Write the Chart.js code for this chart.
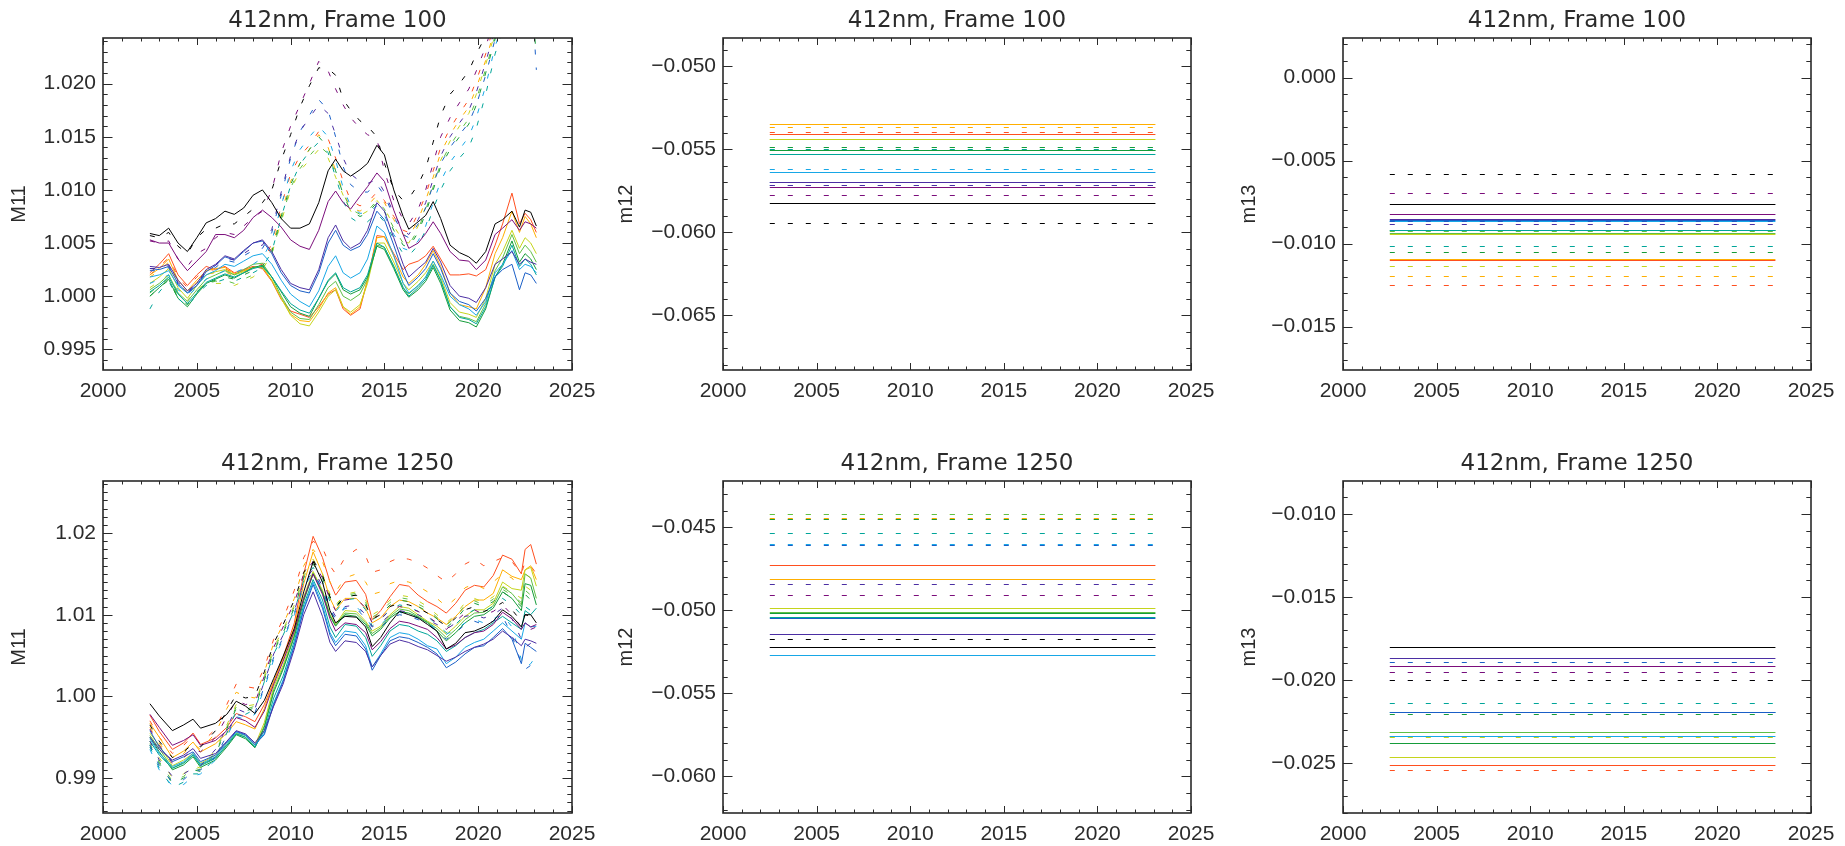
<!DOCTYPE html>
<html>
<head>
<meta charset="utf-8">
<title>412nm M11 / m12 / m13</title>
<script src="https://cdn.jsdelivr.net/npm/chart.js@4.4.1/dist/chart.umd.min.js"></script>
<style>
  html, body { margin: 0; padding: 0; background: #fff; }
  body { width: 1845px; height: 846px; position: relative; overflow: hidden; }
  canvas { position: absolute; }
</style>
</head>
<body>
<canvas id="m11Top"></canvas>
<canvas id="m12Top"></canvas>
<canvas id="m13Top"></canvas>
<canvas id="m11Bottom"></canvas>
<canvas id="m12Bottom"></canvas>
<canvas id="m13Bottom"></canvas>
<script>
// detector colours, same order in every panel
const lineColors = ['#000000', '#7b0d7b', '#4b2ea3', '#1a5fc7', '#17a7e6', '#00a599', '#159c3a', '#5fbf45', '#c5d41c', '#ffae00', '#ff4f1f'];

// x axis
const yearTicks = [2000, 2005, 2010, 2015, 2020, 2025];
const flatSpan = [2002.5, 2023.1];

// y tick labels
const m11TopTicks = [0.995, 1.000, 1.005, 1.010, 1.015, 1.020];
const m12TopTicks = [-0.065, -0.060, -0.055, -0.050];
const m13TopTicks = [-0.015, -0.010, -0.005, 0.000];
const m11BottomTicks = [0.99, 1.00, 1.01, 1.02];
const m12BottomTicks = [-0.060, -0.055, -0.050, -0.045];
const m13BottomTicks = [-0.025, -0.020, -0.015, -0.010];

// ---- M11, Frame 100 ----
const yearsF100 = [2002.5, 2003.0, 2003.5, 2004.0, 2004.5, 2005.0, 2005.5, 2006.0, 2006.5, 2007.0,
  2007.5, 2008.0, 2008.5, 2009.0, 2009.5, 2010.0, 2010.5, 2011.0, 2011.5, 2012.0,
  2012.4, 2012.8, 2013.2, 2013.7, 2014.1, 2014.6, 2015.0, 2015.5, 2016.0, 2016.3,
  2016.8, 2017.2, 2017.6, 2018.0, 2018.5, 2019.0, 2019.5, 2019.9, 2020.4, 2020.9,
  2021.3, 2021.8, 2022.2, 2022.5, 2022.8, 2023.1];

const f100Black = [1.0059, 1.0057, 1.0064, 1.0050, 1.0042, 1.0055, 1.0069, 1.0073, 1.0080, 1.0077,
  1.0083, 1.0095, 1.0100, 1.0088, 1.0073, 1.0064, 1.0064, 1.0068, 1.0088, 1.0118,
  1.0129, 1.0118, 1.0113, 1.0119, 1.0125, 1.0142, 1.0133, 1.0100, 1.0075, 1.0063,
  1.0070, 1.0076, 1.0089, 1.0073, 1.0048, 1.0041, 1.0037, 1.0031, 1.0042, 1.0068,
  1.0072, 1.0080, 1.0065, 1.0081, 1.0079, 1.0066];
const f100Purple = [1.0053, 1.0050, 1.0050, 1.0035, 1.0024, 1.0033, 1.0042, 1.0058, 1.0058, 1.0055,
  1.0062, 1.0074, 1.0081, 1.0074, 1.0065, 1.0053, 1.0047, 1.0044, 1.0062, 1.0089,
  1.0099, 1.0088, 1.0082, 1.0094, 1.0103, 1.0116, 1.0108, 1.0081, 1.0058, 1.0045,
  1.0050, 1.0059, 1.0070, 1.0059, 1.0042, 1.0034, 1.0033, 1.0025, 1.0034, 1.0058,
  1.0064, 1.0072, 1.0062, 1.0070, 1.0068, 1.0064];
const f100Indigo = [1.0028, 1.0027, 1.0030, 1.0015, 1.0005, 1.0012, 1.0025, 1.0030, 1.0038, 1.0035,
  1.0043, 1.0050, 1.0053, 1.0042, 1.0025, 1.0012, 1.0008, 1.0006, 1.0025, 1.0055,
  1.0067, 1.0052, 1.0045, 1.0050, 1.0062, 1.0088, 1.0080, 1.0055, 1.0030, 1.0018,
  1.0026, 1.0032, 1.0045, 1.0032, 1.0010, 1.0000, 0.9998, 0.9994, 1.0008, 1.0030,
  1.0035, 1.0042, 1.0030, 1.0035, 1.0032, 1.0030];
const f100Blue = [1.0026, 1.0025, 1.0028, 1.0012, 1.0003, 1.0010, 1.0023, 1.0029, 1.0037, 1.0034,
  1.0042, 1.0050, 1.0052, 1.0040, 1.0022, 1.0010, 1.0005, 1.0003, 1.0022, 1.0050,
  1.0062, 1.0048, 1.0043, 1.0047, 1.0058, 1.0080, 1.0072, 1.0048, 1.0022, 1.0010,
  1.0018, 1.0026, 1.0040, 1.0026, 1.0003, 0.9995, 0.9992, 0.9986, 0.9998, 1.0018,
  1.0025, 1.0030, 1.0006, 1.0022, 1.0020, 1.0012];
const f100LightBlue = [1.0018, 1.0020, 1.0024, 1.0010, 1.0003, 1.0010, 1.0020, 1.0024, 1.0030, 1.0028,
  1.0033, 1.0038, 1.0040, 1.0030, 1.0015, 1.0002, 0.9995, 0.9990, 1.0005, 1.0028,
  1.0038, 1.0022, 1.0017, 1.0022, 1.0035, 1.0066, 1.0060, 1.0038, 1.0012, 1.0003,
  1.0010, 1.0018, 1.0033, 1.0020, 1.0000, 0.9992, 0.9988, 0.9982, 0.9995, 1.0022,
  1.0030, 1.0043, 1.0025, 1.0030, 1.0028, 1.0022];
const f100Teal = [1.0004, 1.0010, 1.0018, 1.0002, 0.9993, 1.0003, 1.0013, 1.0017, 1.0021, 1.0018,
  1.0022, 1.0026, 1.0028, 1.0018, 1.0005, 0.9993, 0.9987, 0.9984, 0.9998, 1.0015,
  1.0022, 1.0008, 1.0004, 1.0008, 1.0020, 1.0050, 1.0046, 1.0028, 1.0008, 1.0000,
  1.0008, 1.0016, 1.0029, 1.0015, 0.9990, 0.9980, 0.9978, 0.9974, 0.9990, 1.0018,
  1.0028, 1.0048, 1.0028, 1.0035, 1.0030, 1.0020];
const f100Green = [1.0000, 1.0008, 1.0016, 0.9998, 0.9990, 1.0002, 1.0012, 1.0016, 1.0020, 1.0017,
  1.0022, 1.0027, 1.0029, 1.0018, 1.0004, 0.9990, 0.9984, 0.9981, 0.9998, 1.0014,
  1.0021, 1.0006, 1.0002, 1.0006, 1.0018, 1.0047, 1.0044, 1.0026, 1.0006, 0.9999,
  1.0006, 1.0014, 1.0027, 1.0012, 0.9987, 0.9977, 0.9975, 0.9971, 0.9988, 1.0018,
  1.0030, 1.0052, 1.0032, 1.0040, 1.0035, 1.0025];
const f100LightGreen = [1.0006, 1.0012, 1.0020, 1.0003, 0.9995, 1.0006, 1.0016, 1.0020, 1.0024, 1.0020,
  1.0025, 1.0030, 1.0031, 1.0018, 1.0000, 0.9985, 0.9979, 0.9978, 0.9992, 1.0008,
  1.0014, 1.0000, 0.9996, 1.0002, 1.0016, 1.0048, 1.0046, 1.0028, 1.0008, 1.0002,
  1.0010, 1.0018, 1.0030, 1.0015, 0.9990, 0.9981, 0.9979, 0.9976, 0.9993, 1.0024,
  1.0036, 1.0058, 1.0040, 1.0048, 1.0042, 1.0032];
const f100YellowGreen = [1.0012, 1.0018, 1.0026, 1.0008, 0.9998, 1.0010, 1.0020, 1.0023, 1.0025, 1.0020,
  1.0023, 1.0027, 1.0028, 1.0015, 0.9998, 0.9982, 0.9974, 0.9972, 0.9985, 1.0000,
  1.0006, 0.9990, 0.9985, 0.9992, 1.0012, 1.0050, 1.0050, 1.0032, 1.0012, 1.0006,
  1.0014, 1.0022, 1.0033, 1.0018, 0.9994, 0.9985, 0.9983, 0.9980, 0.9998, 1.0030,
  1.0042, 1.0062, 1.0045, 1.0055, 1.0050, 1.0040];
const f100Orange = [1.0020, 1.0026, 1.0035, 1.0015, 1.0005, 1.0015, 1.0024, 1.0026, 1.0027, 1.0021,
  1.0024, 1.0027, 1.0027, 1.0015, 0.9998, 0.9983, 0.9977, 0.9976, 0.9988, 1.0003,
  1.0008, 0.9990, 0.9983, 0.9990, 1.0015, 1.0055, 1.0056, 1.0038, 1.0018, 1.0012,
  1.0020, 1.0030, 1.0043, 1.0028, 1.0003, 0.9992, 0.9990, 0.9988, 1.0008, 1.0040,
  1.0055, 1.0080, 1.0060, 1.0075, 1.0068, 1.0055];
const f100Red = [1.0022, 1.0030, 1.0040, 1.0020, 1.0010, 1.0020, 1.0028, 1.0025, 1.0028, 1.0022,
  1.0025, 1.0028, 1.0026, 1.0014, 0.9997, 0.9986, 0.9983, 0.9980, 0.9990, 1.0002,
  1.0006, 0.9988, 0.9982, 0.9988, 1.0015, 1.0057, 1.0056, 1.0040, 1.0025, 1.0030,
  1.0033, 1.0038, 1.0047, 1.0035, 1.0020, 1.0020, 1.0021, 1.0019, 1.0025, 1.0048,
  1.0068, 1.0097, 1.0068, 1.0078, 1.0072, 1.0060];

const f100BlackDash = [1.0057, 1.0055, 1.0060, 1.0047, 1.0040, 1.0055, 1.0063, 1.0064, 1.0068, 1.0068,
  1.0075, 1.0082, 1.0088, 1.0100, 1.0128, 1.0152, 1.0178, 1.0198, 1.0215, 1.0214,
  1.0208, 1.0185, 1.0175, 1.0165, 1.0160, 1.0150, 1.0125, 1.0100, 1.0090, 1.0092,
  1.0105, 1.0120, 1.0145, 1.0170, 1.0190, 1.0200, 1.0212, 1.0228, 1.0245, 1.0270,
  1.0290, 1.0310, 1.0320, 1.0330, 1.0335, 1.0340];
const f100PurpleDash = [1.0052, 1.0050, 1.0052, 1.0035, 1.0028, 1.0040, 1.0045, 1.0055, 1.0060, 1.0058,
  1.0066, 1.0074, 1.0080, 1.0100, 1.0135, 1.0160, 1.0180, 1.0200, 1.0221, 1.0212,
  1.0195, 1.0180, 1.0168, 1.0158, 1.0152, 1.0148, 1.0118, 1.0090, 1.0072, 1.0068,
  1.0082, 1.0100, 1.0125, 1.0150, 1.0168, 1.0182, 1.0195, 1.0212, 1.0235, 1.0262,
  1.0280, 1.0300, 1.0312, 1.0320, 1.0325, 1.0330];
const f100IndigoDash = [1.0026, 1.0026, 1.0029, 1.0013, 1.0004, 1.0011, 1.0024, 1.0029, 1.0036, 1.0034,
  1.0040, 1.0046, 1.0048, 1.0063, 1.0098, 1.0132, 1.0155, 1.0168, 1.0180, 1.0172,
  1.0152, 1.0130, 1.0115, 1.0108, 1.0106, 1.0110, 1.0098, 1.0078, 1.0062, 1.0058,
  1.0072, 1.0088, 1.0110, 1.0132, 1.0150, 1.0163, 1.0175, 1.0192, 1.0220, 1.0252,
  1.0272, 1.0295, 1.0308, 1.0315, 1.0320, 1.0325];
const f100BlueDash = [1.0024, 1.0024, 1.0027, 1.0011, 1.0002, 1.0010, 1.0022, 1.0027, 1.0034, 1.0032,
  1.0038, 1.0043, 1.0045, 1.0060, 1.0095, 1.0130, 1.0155, 1.0170, 1.0185, 1.0175,
  1.0150, 1.0122, 1.0105, 1.0098, 1.0098, 1.0105, 1.0095, 1.0075, 1.0058, 1.0055,
  1.0068, 1.0083, 1.0105, 1.0125, 1.0140, 1.0152, 1.0163, 1.0180, 1.0208, 1.0242,
  1.0262, 1.0285, 1.0298, 1.0305, 1.0300, 1.0213];
const f100LightBlueDash = [1.0012, 1.0016, 1.0020, 1.0006, 1.0000, 1.0008, 1.0016, 1.0020, 1.0024, 1.0022,
  1.0026, 1.0030, 1.0036, 1.0052, 1.0085, 1.0118, 1.0138, 1.0150, 1.0160, 1.0150,
  1.0128, 1.0102, 1.0085, 1.0078, 1.0078, 1.0085, 1.0076, 1.0058, 1.0045, 1.0043,
  1.0052, 1.0066, 1.0088, 1.0108, 1.0126, 1.0138, 1.0150, 1.0168, 1.0198, 1.0235,
  1.0256, 1.0280, 1.0295, 1.0305, 1.0300, 1.0305];
const f100TealDash = [0.9988, 1.0004, 1.0014, 0.9998, 0.9990, 1.0002, 1.0010, 1.0013, 1.0016, 1.0014,
  1.0018, 1.0022, 1.0027, 1.0042, 1.0074, 1.0104, 1.0124, 1.0136, 1.0145, 1.0135,
  1.0112, 1.0090, 1.0074, 1.0068, 1.0070, 1.0078, 1.0070, 1.0054, 1.0040, 1.0038,
  1.0048, 1.0062, 1.0082, 1.0100, 1.0118, 1.0130, 1.0140, 1.0158, 1.0190, 1.0228,
  1.0250, 1.0275, 1.0290, 1.0300, 1.0300, 1.0241];
const f100GreenDash = [1.0000, 1.0008, 1.0015, 0.9998, 0.9992, 1.0004, 1.0012, 1.0015, 1.0018, 1.0016,
  1.0020, 1.0024, 1.0028, 1.0042, 1.0075, 1.0105, 1.0125, 1.0138, 1.0150, 1.0140,
  1.0118, 1.0096, 1.0080, 1.0075, 1.0078, 1.0088, 1.0080, 1.0062, 1.0048, 1.0046,
  1.0060, 1.0078, 1.0100, 1.0122, 1.0138, 1.0150, 1.0162, 1.0180, 1.0210, 1.0242,
  1.0262, 1.0285, 1.0298, 1.0305, 1.0290, 1.0226];
const f100LightGreenDash = [1.0003, 1.0010, 1.0017, 1.0000, 0.9993, 1.0004, 1.0012, 1.0014, 1.0015, 1.0012,
  1.0016, 1.0020, 1.0026, 1.0040, 1.0072, 1.0102, 1.0120, 1.0132, 1.0142, 1.0134,
  1.0115, 1.0097, 1.0082, 1.0077, 1.0080, 1.0090, 1.0082, 1.0064, 1.0050, 1.0048,
  1.0063, 1.0081, 1.0103, 1.0125, 1.0142, 1.0155, 1.0167, 1.0185, 1.0214, 1.0245,
  1.0266, 1.0288, 1.0300, 1.0308, 1.0312, 1.0316];
const f100YellowGreenDash = [1.0008, 1.0014, 1.0020, 1.0004, 0.9996, 1.0006, 1.0012, 1.0012, 1.0012, 1.0010,
  1.0014, 1.0018, 1.0025, 1.0040, 1.0070, 1.0100, 1.0118, 1.0128, 1.0138, 1.0130,
  1.0112, 1.0095, 1.0080, 1.0076, 1.0080, 1.0090, 1.0083, 1.0066, 1.0052, 1.0050,
  1.0066, 1.0084, 1.0106, 1.0128, 1.0146, 1.0160, 1.0172, 1.0190, 1.0218, 1.0248,
  1.0270, 1.0292, 1.0305, 1.0312, 1.0318, 1.0322];
const f100OrangeDash = [1.0018, 1.0024, 1.0032, 1.0013, 1.0003, 1.0013, 1.0021, 1.0022, 1.0023, 1.0019,
  1.0022, 1.0025, 1.0028, 1.0045, 1.0078, 1.0108, 1.0125, 1.0138, 1.0152, 1.0140,
  1.0118, 1.0098, 1.0083, 1.0080, 1.0085, 1.0095, 1.0088, 1.0072, 1.0058, 1.0055,
  1.0072, 1.0090, 1.0112, 1.0135, 1.0152, 1.0166, 1.0178, 1.0196, 1.0222, 1.0252,
  1.0274, 1.0296, 1.0308, 1.0316, 1.0320, 1.0325];
const f100RedDash = [1.0020, 1.0028, 1.0036, 1.0018, 1.0008, 1.0018, 1.0026, 1.0024, 1.0026, 1.0021,
  1.0024, 1.0027, 1.0030, 1.0050, 1.0085, 1.0115, 1.0132, 1.0142, 1.0155, 1.0148,
  1.0130, 1.0108, 1.0090, 1.0085, 1.0088, 1.0098, 1.0090, 1.0075, 1.0062, 1.0060,
  1.0078, 1.0095, 1.0118, 1.0140, 1.0158, 1.0172, 1.0185, 1.0203, 1.0228, 1.0258,
  1.0278, 1.0300, 1.0312, 1.0320, 1.0325, 1.0330];

// ---- M11, Frame 1250 ----
const yearsF1250 = [2002.5, 2003.0, 2003.7, 2004.3, 2004.8, 2005.2, 2006.0, 2006.6, 2007.1, 2007.6,
  2008.1, 2008.6, 2009.1, 2009.6, 2010.2, 2010.7, 2011.2, 2011.7, 2012.1, 2012.4,
  2012.9, 2013.5, 2014.0, 2014.35, 2014.8, 2015.3, 2015.8, 2016.3, 2016.8, 2017.3,
  2017.8, 2018.3, 2018.8, 2019.3, 2019.8, 2020.3, 2020.8, 2021.3, 2021.8, 2022.3,
  2022.5, 2022.8, 2023.1];

const f1250Black = [0.9991, 0.9976, 0.9958, 0.9965, 0.9972, 0.9961, 0.9967, 0.9978, 0.9994, 0.9988,
  0.9979, 0.9995, 1.0022, 1.0049, 1.0083, 1.0128, 1.0165, 1.0140, 1.0105, 1.0090,
  1.0098, 1.0097, 1.0085, 1.0061, 1.0072, 1.0090, 1.0104, 1.0100, 1.0096, 1.0088,
  1.0080, 1.0058, 1.0065, 1.0078, 1.0080, 1.0085, 1.0092, 1.0106, 1.0098, 1.0085,
  1.0100, 1.0100, 1.0090];
const f1250Purple = [0.9978, 0.9962, 0.9940, 0.9946, 0.9953, 0.9940, 0.9946, 0.9958, 0.9974, 0.9970,
  0.9962, 0.9982, 1.0015, 1.0043, 1.0080, 1.0120, 1.0150, 1.0125, 1.0095, 1.0080,
  1.0090, 1.0088, 1.0078, 1.0057, 1.0067, 1.0083, 1.0092, 1.0090, 1.0086, 1.0082,
  1.0072, 1.0058, 1.0063, 1.0072, 1.0078, 1.0080, 1.0088, 1.0103, 1.0095, 1.0082,
  1.0090, 1.0085, 1.0088];
const f1250Indigo = [0.9950, 0.9935, 0.9922, 0.9928, 0.9936, 0.9924, 0.9930, 0.9945, 0.9958, 0.9954,
  0.9943, 0.9958, 0.9988, 1.0015, 1.0058, 1.0100, 1.0128, 1.0098, 1.0066, 1.0055,
  1.0068, 1.0066, 1.0055, 1.0036, 1.0050, 1.0064, 1.0069, 1.0066, 1.0061, 1.0057,
  1.0050, 1.0043, 1.0048, 1.0055, 1.0060, 1.0064, 1.0070, 1.0080, 1.0072, 1.0062,
  1.0070, 1.0068, 1.0065];
const f1250Blue = [0.9958, 0.9938, 0.9920, 0.9926, 0.9932, 0.9920, 0.9928, 0.9944, 0.9957, 0.9953,
  0.9941, 0.9953, 0.9990, 1.0018, 1.0062, 1.0106, 1.0137, 1.0108, 1.0075, 1.0062,
  1.0076, 1.0074, 1.0058, 1.0032, 1.0050, 1.0068, 1.0073, 1.0071, 1.0066, 1.0060,
  1.0052, 1.0035, 1.0042, 1.0052, 1.0060, 1.0062, 1.0072, 1.0083, 1.0070, 1.0040,
  1.0065, 1.0060, 1.0055];
const f1250LightBlue = [0.9948, 0.9930, 0.9914, 0.9920, 0.9930, 0.9917, 0.9926, 0.9942, 0.9956, 0.9952,
  0.9940, 0.9955, 0.9992, 1.0020, 1.0064, 1.0108, 1.0140, 1.0112, 1.0078, 1.0066,
  1.0080, 1.0078, 1.0062, 1.0036, 1.0052, 1.0072, 1.0078, 1.0076, 1.0070, 1.0062,
  1.0058, 1.0040, 1.0048, 1.0060, 1.0066, 1.0070, 1.0080, 1.0090, 1.0080, 1.0070,
  1.0090, 1.0085, 1.0086];
const f1250Teal = [0.9945, 0.9928, 0.9912, 0.9918, 0.9928, 0.9915, 0.9924, 0.9940, 0.9954, 0.9950,
  0.9938, 0.9958, 0.9998, 1.0025, 1.0068, 1.0112, 1.0143, 1.0118, 1.0085, 1.0072,
  1.0088, 1.0086, 1.0072, 1.0049, 1.0062, 1.0080, 1.0088, 1.0086, 1.0080, 1.0076,
  1.0068, 1.0055, 1.0062, 1.0072, 1.0078, 1.0082, 1.0090, 1.0098, 1.0090, 1.0082,
  1.0105, 1.0100, 1.0108];
const f1250Green = [0.9950, 0.9932, 0.9910, 0.9916, 0.9926, 0.9913, 0.9922, 0.9938, 0.9953, 0.9948,
  0.9937, 0.9962, 1.0005, 1.0033, 1.0073, 1.0117, 1.0150, 1.0127, 1.0098, 1.0086,
  1.0100, 1.0098, 1.0088, 1.0074, 1.0082, 1.0096, 1.0104, 1.0102, 1.0097, 1.0090,
  1.0080, 1.0068, 1.0078, 1.0090, 1.0098, 1.0100, 1.0108, 1.0128, 1.0120, 1.0105,
  1.0138, 1.0136, 1.0112];
const f1250LightGreen = [0.9952, 0.9936, 0.9912, 0.9919, 0.9928, 0.9916, 0.9925, 0.9940, 0.9954, 0.9950,
  0.9938, 0.9964, 1.0008, 1.0035, 1.0075, 1.0119, 1.0151, 1.0128, 1.0099, 1.0087,
  1.0102, 1.0101, 1.0090, 1.0077, 1.0084, 1.0098, 1.0107, 1.0105, 1.0098, 1.0091,
  1.0083, 1.0072, 1.0082, 1.0094, 1.0102, 1.0103, 1.0111, 1.0134, 1.0126, 1.0112,
  1.0150, 1.0145, 1.0120];
const f1250YellowGreen = [0.9955, 0.9940, 0.9915, 0.9922, 0.9930, 0.9918, 0.9928, 0.9942, 0.9955, 0.9952,
  0.9940, 0.9968, 1.0012, 1.0038, 1.0078, 1.0122, 1.0153, 1.0130, 1.0100, 1.0088,
  1.0105, 1.0104, 1.0092, 1.0080, 1.0086, 1.0100, 1.0110, 1.0108, 1.0100, 1.0092,
  1.0086, 1.0076, 1.0086, 1.0098, 1.0106, 1.0106, 1.0114, 1.0140, 1.0132, 1.0130,
  1.0155, 1.0158, 1.0135];
const f1250Orange = [0.9967, 0.9950, 0.9925, 0.9933, 0.9944, 0.9932, 0.9942, 0.9955, 0.9969, 0.9965,
  0.9960, 0.9985, 1.0018, 1.0045, 1.0085, 1.0138, 1.0177, 1.0150, 1.0120, 1.0106,
  1.0120, 1.0120, 1.0108, 1.0090, 1.0096, 1.0110, 1.0118, 1.0116, 1.0110, 1.0102,
  1.0096, 1.0088, 1.0098, 1.0110, 1.0118, 1.0118, 1.0126, 1.0155, 1.0147, 1.0143,
  1.0155, 1.0160, 1.0143];
const f1250Red = [0.9977, 0.9957, 0.9935, 0.9943, 0.9955, 0.9941, 0.9949, 0.9962, 0.9979, 0.9975,
  0.9969, 0.9990, 1.0018, 1.0048, 1.0090, 1.0150, 1.0196, 1.0170, 1.0140, 1.0124,
  1.0140, 1.0142, 1.0125, 1.0094, 1.0105, 1.0122, 1.0137, 1.0135, 1.0124, 1.0116,
  1.0110, 1.0102, 1.0114, 1.0130, 1.0136, 1.0134, 1.0148, 1.0173, 1.0168, 1.0150,
  1.0180, 1.0186, 1.0162];

const f1250BlackDash = [0.9965, 0.9945, 0.9925, 0.9932, 0.9942, 0.9938, 0.9958, 0.9982, 1.0002, 0.9998,
  1.0000, 1.0030, 1.0065, 1.0088, 1.0118, 1.0152, 1.0167, 1.0148, 1.0122, 1.0110,
  1.0122, 1.0124, 1.0112, 1.0095, 1.0100, 1.0110, 1.0114, 1.0112, 1.0108, 1.0102,
  1.0094, 1.0086, 1.0096, 1.0106, 1.0110, 1.0104, 1.0108, 1.0115, 1.0106, 1.0092,
  1.0100, 1.0098, 1.0095];
const f1250PurpleDash = [0.9960, 0.9940, 0.9918, 0.9925, 0.9935, 0.9932, 0.9950, 0.9975, 0.9995, 0.9990,
  0.9992, 1.0025, 1.0060, 1.0085, 1.0115, 1.0150, 1.0165, 1.0145, 1.0118, 1.0105,
  1.0118, 1.0120, 1.0108, 1.0090, 1.0095, 1.0106, 1.0110, 1.0108, 1.0104, 1.0098,
  1.0090, 1.0082, 1.0092, 1.0102, 1.0106, 1.0100, 1.0104, 1.0112, 1.0100, 1.0085,
  1.0080, 1.0082, 1.0085];
const f1250IndigoDash = [0.9945, 0.9922, 0.9902, 0.9905, 0.9912, 0.9915, 0.9935, 0.9962, 0.9985, 0.9980,
  0.9985, 1.0018, 1.0052, 1.0075, 1.0105, 1.0140, 1.0156, 1.0135, 1.0110, 1.0098,
  1.0110, 1.0112, 1.0100, 1.0085, 1.0090, 1.0100, 1.0105, 1.0103, 1.0100, 1.0094,
  1.0088, 1.0082, 1.0090, 1.0098, 1.0100, 1.0096, 1.0100, 1.0108, 1.0095, 1.0070,
  1.0060, 1.0065, 1.0070];
const f1250BlueDash = [0.9940, 0.9915, 0.9895, 0.9898, 0.9908, 0.9910, 0.9926, 0.9952, 0.9978, 0.9975,
  0.9980, 1.0012, 1.0048, 1.0072, 1.0102, 1.0138, 1.0152, 1.0132, 1.0106, 1.0095,
  1.0108, 1.0108, 1.0095, 1.0080, 1.0085, 1.0095, 1.0100, 1.0098, 1.0094, 1.0088,
  1.0080, 1.0070, 1.0078, 1.0088, 1.0092, 1.0088, 1.0092, 1.0098, 1.0075, 1.0040,
  1.0033, 1.0038, 1.0045];
const f1250LightBlueDash = [0.9935, 0.9910, 0.9890, 0.9892, 0.9902, 0.9905, 0.9922, 0.9950, 0.9975, 0.9972,
  0.9978, 1.0010, 1.0045, 1.0070, 1.0100, 1.0135, 1.0150, 1.0130, 1.0105, 1.0095,
  1.0110, 1.0110, 1.0098, 1.0084, 1.0088, 1.0098, 1.0103, 1.0100, 1.0096, 1.0090,
  1.0082, 1.0076, 1.0082, 1.0090, 1.0094, 1.0090, 1.0095, 1.0100, 1.0085, 1.0045,
  1.0035, 1.0040, 1.0050];
const f1250TealDash = [0.9938, 0.9912, 0.9888, 0.9895, 0.9905, 0.9905, 0.9925, 0.9955, 0.9982, 0.9978,
  0.9984, 1.0018, 1.0052, 1.0075, 1.0105, 1.0142, 1.0158, 1.0140, 1.0116, 1.0104,
  1.0118, 1.0120, 1.0106, 1.0086, 1.0094, 1.0106, 1.0112, 1.0110, 1.0104, 1.0098,
  1.0088, 1.0078, 1.0088, 1.0100, 1.0106, 1.0104, 1.0110, 1.0120, 1.0112, 1.0100,
  1.0110, 1.0105, 1.0100];
const f1250GreenDash = [0.9940, 0.9918, 0.9893, 0.9900, 0.9910, 0.9908, 0.9930, 0.9960, 0.9985, 0.9982,
  0.9986, 1.0020, 1.0055, 1.0078, 1.0108, 1.0145, 1.0162, 1.0145, 1.0120, 1.0108,
  1.0122, 1.0124, 1.0112, 1.0094, 1.0100, 1.0112, 1.0118, 1.0116, 1.0110, 1.0104,
  1.0095, 1.0084, 1.0094, 1.0108, 1.0114, 1.0110, 1.0116, 1.0128, 1.0120, 1.0110,
  1.0125, 1.0118, 1.0112];
const f1250LightGreenDash = [0.9942, 0.9920, 0.9896, 0.9902, 0.9912, 0.9910, 0.9932, 0.9962, 0.9987, 0.9984,
  0.9988, 1.0022, 1.0057, 1.0080, 1.0110, 1.0147, 1.0165, 1.0148, 1.0122, 1.0110,
  1.0124, 1.0126, 1.0115, 1.0097, 1.0103, 1.0115, 1.0121, 1.0119, 1.0113, 1.0107,
  1.0097, 1.0087, 1.0097, 1.0112, 1.0117, 1.0112, 1.0119, 1.0131, 1.0124, 1.0115,
  1.0130, 1.0124, 1.0118];
const f1250YellowGreenDash = [0.9945, 0.9925, 0.9900, 0.9905, 0.9915, 0.9912, 0.9935, 0.9965, 0.9990, 0.9988,
  0.9990, 1.0025, 1.0060, 1.0082, 1.0112, 1.0150, 1.0168, 1.0150, 1.0125, 1.0112,
  1.0125, 1.0128, 1.0118, 1.0100, 1.0106, 1.0118, 1.0124, 1.0122, 1.0117, 1.0110,
  1.0100, 1.0090, 1.0100, 1.0115, 1.0120, 1.0115, 1.0122, 1.0135, 1.0128, 1.0120,
  1.0135, 1.0130, 1.0125];
const f1250OrangeDash = [0.9962, 0.9943, 0.9920, 0.9930, 0.9942, 0.9935, 0.9955, 0.9985, 1.0005, 1.0000,
  0.9998, 1.0030, 1.0065, 1.0088, 1.0120, 1.0160, 1.0180, 1.0165, 1.0140, 1.0128,
  1.0145, 1.0150, 1.0140, 1.0125, 1.0128, 1.0138, 1.0142, 1.0140, 1.0135, 1.0128,
  1.0120, 1.0110, 1.0120, 1.0133, 1.0138, 1.0132, 1.0140, 1.0150, 1.0145, 1.0130,
  1.0150, 1.0145, 1.0135];
const f1250RedDash = [0.9970, 0.9950, 0.9930, 0.9940, 0.9952, 0.9942, 0.9960, 0.9990, 1.0015, 1.0012,
  1.0010, 1.0035, 1.0070, 1.0095, 1.0130, 1.0170, 1.0190, 1.0182, 1.0160, 1.0150,
  1.0170, 1.0180, 1.0172, 1.0152, 1.0155, 1.0165, 1.0170, 1.0168, 1.0164, 1.0157,
  1.0148, 1.0140, 1.0150, 1.0162, 1.0168, 1.0160, 1.0165, 1.0170, 1.0165, 1.0150,
  1.0165, 1.0160, 1.0150];

// ---- m12 / m13 (constant per detector, colour order as lineColors) ----
const m12F100Solid = [-0.0583, -0.0573, -0.0570, -0.0570, -0.0564, -0.0553, -0.0551, -0.0551, -0.0544, -0.0535, -0.0541];
const m12F100Dashed = [-0.0595, -0.0578, -0.0572, -0.0572, -0.0562, -0.0550, -0.0549, -0.0549, -0.0544, -0.0537, -0.0540];
const m13F100Solid = [-0.00762, -0.00824, -0.00858, -0.00862, -0.00866, -0.00920, -0.00922, -0.00940, -0.00944, -0.01095, -0.01100];
const m13F100Dashed = [-0.00584, -0.00700, -0.00888, -0.00866, -0.00870, -0.01017, -0.01053, -0.00925, -0.01139, -0.01197, -0.01254];
const m12F1250Solid = [-0.05221, -0.05227, -0.05147, -0.05050, -0.05271, -0.05044, -0.05020, -0.05014, -0.04990, -0.04813, -0.04731];
const m12F1250Dashed = [-0.05173, -0.04912, -0.04843, -0.04608, -0.04605, -0.04536, -0.04452, -0.04425, -0.04422, -0.04448, -0.04452];
const m13F1250Solid = [-0.01801, -0.01916, -0.01873, -0.02195, -0.02340, -0.02195, -0.02382, -0.02317, -0.02464, -0.02464, -0.02516];
const m13F1250Dashed = [-0.02000, -0.01954, -0.02000, -0.01892, -0.01954, -0.02140, -0.02207, -0.02340, -0.02347, -0.02317, -0.02546];

const textColor = '#2b2b2b';
const tickFont = 'Liberation Sans, Arial, sans-serif';
const titleFont = 'DejaVu Sans, sans-serif';
const dashPattern = [5, 13];

function timeSeries(years, solids, dashes) {
  const sets = [];
  solids.forEach((vals, i) => {
    sets.push({ data: years.map((x, k) => ({ x, y: vals[k] })), borderColor: lineColors[i], borderDash: [] });
    sets.push({ data: years.map((x, k) => ({ x, y: dashes[i][k] })), borderColor: lineColors[i], borderDash: dashPattern });
  });
  return sets;
}

function flatSeries(solids, dashes) {
  const sets = [];
  solids.forEach((v, i) => {
    sets.push({ data: flatSpan.map(x => ({ x, y: v })), borderColor: lineColors[i], borderDash: [] });
    sets.push({ data: flatSpan.map(x => ({ x, y: dashes[i] })), borderColor: lineColors[i], borderDash: dashPattern });
  });
  return sets;
}

// keeps horizontal lines on the pixel grid so they stay sharp
const pixelSnap = {
  id: 'pixelSnap',
  beforeDatasetDraw(chart, args, opts) {
    if (!opts.enabled) return;
    const pt = args.meta.data[0];
    if (!pt) return;
    const off = Math.round(pt.y - 0.5) + 0.5 - pt.y;
    chart.ctx.save();
    chart.ctx.translate(0, off);
  },
  afterDatasetDraw(chart, args, opts) {
    if (!opts.enabled || !args.meta.data[0]) return;
    chart.ctx.restore();
  }
};

// box frame with inward ticks on all four sides
const idlFrame = {
  id: 'idlFrame',
  afterDatasetsDraw(chart, args, opts) {
    const { ctx, chartArea: a, scales: { x, y } } = chart;
    ctx.save();
    ctx.strokeStyle = '#2a2a2a';
    ctx.lineWidth = 1;
    ctx.beginPath();
    for (let yr = 2000; yr <= 2025; yr++) {
      const px = Math.round(x.getPixelForValue(yr)) + 0.5;
      const len = yr % 5 === 0 ? 7 : 3.5;
      ctx.moveTo(px, a.bottom); ctx.lineTo(px, a.bottom - len);
      ctx.moveTo(px, a.top); ctx.lineTo(px, a.top + len);
    }
    const k0 = Math.ceil(y.min / opts.minor - 1e-6);
    const k1 = Math.floor(y.max / opts.minor + 1e-6);
    for (let k = k0; k <= k1; k++) {
      const v = k * opts.minor;
      const r = v / opts.major;
      const len = Math.abs(r - Math.round(r)) < 1e-6 ? 9.5 : 4.7;
      const py = Math.round(y.getPixelForValue(v)) + 0.5;
      ctx.moveTo(a.left, py); ctx.lineTo(a.left + len, py);
      ctx.moveTo(a.right, py); ctx.lineTo(a.right - len, py);
    }
    ctx.stroke();
    ctx.lineWidth = 1.6;
    ctx.strokeRect(a.left, a.top, a.right - a.left, a.bottom - a.top);
    ctx.restore();
  }
};

function fmt(v, digits) {
  const s = Math.abs(v) < 1e-9 ? (0).toFixed(digits) : v.toFixed(digits);
  return s.replace('-', '\u2212');
}

const panels = [
  { id: 'm11Top', left: 0, top: 0, width: 607, height: 423, axisWidth: 103, padRight: 35, flat: false,
    title: '412nm, Frame 100', yTitle: 'M11', yMin: 0.99305, yMax: 1.0243, ticks: m11TopTicks, digits: 3, major: 0.005,
    datasets: timeSeries(yearsF100,
      [f100Black, f100Purple, f100Indigo, f100Blue, f100LightBlue, f100Teal, f100Green, f100LightGreen, f100YellowGreen, f100Orange, f100Red],
      [f100BlackDash, f100PurpleDash, f100IndigoDash, f100BlueDash, f100LightBlueDash, f100TealDash, f100GreenDash, f100LightGreenDash, f100YellowGreenDash, f100OrangeDash, f100RedDash]) },
  { id: 'm12Top', left: 607, top: 0, width: 623, height: 423, axisWidth: 116, padRight: 39, flat: true,
    title: '412nm, Frame 100', yTitle: 'm12', yMin: -0.0683, yMax: -0.0483, ticks: m12TopTicks, digits: 3, major: 0.005,
    datasets: flatSeries(m12F100Solid, m12F100Dashed) },
  { id: 'm13Top', left: 1230, top: 0, width: 615, height: 423, axisWidth: 113, padRight: 34, flat: true,
    title: '412nm, Frame 100', yTitle: 'm13', yMin: -0.01762, yMax: 0.00238, ticks: m13TopTicks, digits: 3, major: 0.005,
    datasets: flatSeries(m13F100Solid, m13F100Dashed) },
  { id: 'm11Bottom', left: 0, top: 443, width: 607, height: 403, axisWidth: 103, padRight: 35, flat: false,
    title: '412nm, Frame 1250', yTitle: 'M11', yMin: 0.98571, yMax: 1.02638, ticks: m11BottomTicks, digits: 2, major: 0.01,
    datasets: timeSeries(yearsF1250,
      [f1250Black, f1250Purple, f1250Indigo, f1250Blue, f1250LightBlue, f1250Teal, f1250Green, f1250LightGreen, f1250YellowGreen, f1250Orange, f1250Red],
      [f1250BlackDash, f1250PurpleDash, f1250IndigoDash, f1250BlueDash, f1250LightBlueDash, f1250TealDash, f1250GreenDash, f1250LightGreenDash, f1250YellowGreenDash, f1250OrangeDash, f1250RedDash]) },
  { id: 'm12Bottom', left: 607, top: 443, width: 623, height: 403, axisWidth: 116, padRight: 39, flat: true,
    title: '412nm, Frame 1250', yTitle: 'm12', yMin: -0.06221, yMax: -0.04221, ticks: m12BottomTicks, digits: 3, major: 0.005,
    datasets: flatSeries(m12F1250Solid, m12F1250Dashed) },
  { id: 'm13Bottom', left: 1230, top: 443, width: 615, height: 403, axisWidth: 113, padRight: 34, flat: true,
    title: '412nm, Frame 1250', yTitle: 'm13', yMin: -0.02801, yMax: -0.00801, ticks: m13BottomTicks, digits: 3, major: 0.005,
    datasets: flatSeries(m13F1250Solid, m13F1250Dashed) }
];

panels.forEach(p => {
  const canvas = document.getElementById(p.id);
  canvas.width = p.width;
  canvas.height = p.height;
  canvas.style.left = p.left + 'px';
  canvas.style.top = p.top + 'px';

  new Chart(canvas, {
    type: 'line',
    data: { datasets: p.datasets },
    options: {
      responsive: false,
      animation: false,
      events: [],
      layout: { padding: { left: 0, right: p.padRight, top: 0, bottom: 0 } },
      elements: {
        point: { radius: 0 },
        line: { borderWidth: 1, tension: 0, fill: false }
      },
      plugins: {
        legend: { display: false },
        tooltip: { enabled: false },
        title: {
          display: true,
          text: p.title,
          fullSize: false,
          color: textColor,
          font: { family: titleFont, size: 23, weight: 'normal', lineHeight: 1.2 },
          padding: { top: 7, bottom: 3.4 }
        },
        pixelSnap: { enabled: p.flat },
        idlFrame: { minor: p.major / (p.digits === 2 ? 10 : 5), major: p.major }
      },
      scales: {
        x: {
          type: 'linear',
          min: 2000,
          max: 2025,
          grid: { display: false, drawTicks: false },
          border: { display: false },
          afterBuildTicks: s => { s.ticks = yearTicks.map(v => ({ value: v })); },
          afterFit: s => { s.height = p.height - 370; },
          ticks: {
            padding: 9,
            color: textColor,
            maxRotation: 0,
            autoSkip: false,
            font: { family: tickFont, size: 21 },
            callback: v => String(v)
          }
        },
        y: {
          type: 'linear',
          min: p.yMin,
          max: p.yMax,
          grid: { display: false, drawTicks: false },
          border: { display: false },
          afterBuildTicks: s => { s.ticks = p.ticks.map(v => ({ value: v })); },
          afterFit: s => { s.width = p.axisWidth; },
          title: {
            display: true,
            text: p.yTitle,
            color: textColor,
            font: { family: tickFont, size: 20 },
            padding: { top: 7, bottom: 0 }
          },
          ticks: {
            padding: 7,
            color: textColor,
            font: { family: tickFont, size: 21 },
            callback: v => fmt(v, p.digits)
          }
        }
      }
    },
    plugins: [pixelSnap, idlFrame]
  });
});
</script>
</body>
</html>
